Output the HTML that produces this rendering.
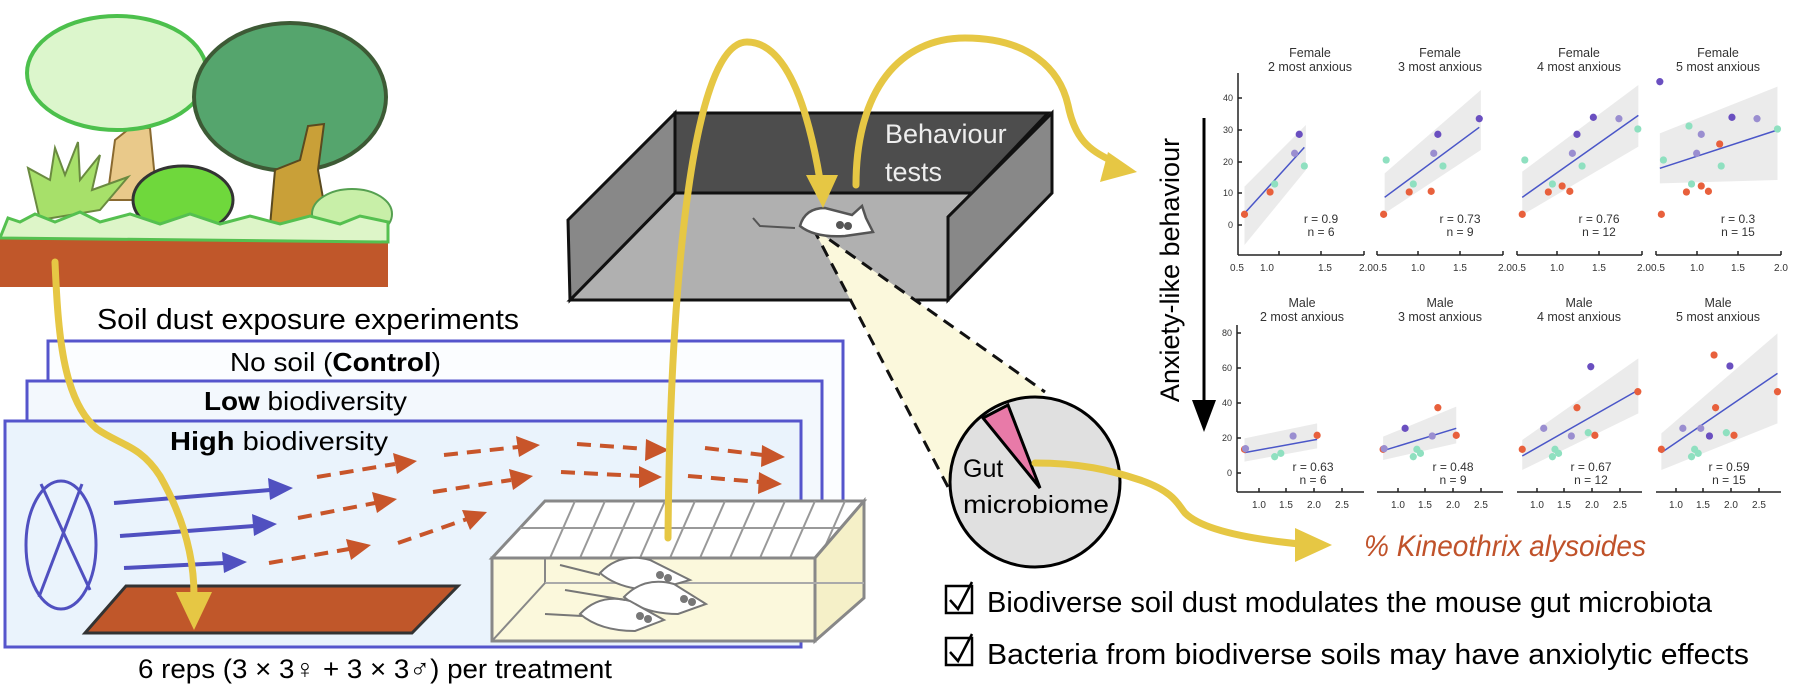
<!DOCTYPE html>
<html><head><meta charset="utf-8"><style>
html,body{margin:0;padding:0;background:#fff;}
svg{display:block;}
.t{font-family:"Liberation Sans",sans-serif;}
.p{font-family:"Liberation Sans Narrow","Liberation Sans",sans-serif;fill:#333;}
</style></head><body>
<svg width="1798" height="694" viewBox="0 0 1798 694" xmlns="http://www.w3.org/2000/svg">
<rect width="1798" height="694" fill="#fff"/>

<!-- ===== Landscape ===== -->
<rect x="0" y="236" width="388" height="51" fill="#c0572a"/>
<path d="M107,200 L115,140 L130,128 L150,128 L157,200 Z" fill="#e9c98a" stroke="#8a6a30" stroke-width="2"/>
<ellipse cx="117" cy="73" rx="90" ry="57" fill="#dcf6cc" stroke="#4cc04c" stroke-width="4"/>
<ellipse cx="290" cy="97" rx="96" ry="74" fill="#55a56d" stroke="#3d5a35" stroke-width="4"/>
<path d="M270,226 L275,170 L300,160 L308,126 L324,124 L318,170 L328,226 Z" fill="#c9a038" stroke="#5a4a20" stroke-width="2"/>
<path d="M40,220 L28,168 L50,180 L55,148 L65,175 L78,142 L80,180 L100,155 L92,190 L128,177 L100,210 Z" fill="#a7e06a" stroke="#6a8a40" stroke-width="2"/>
<ellipse cx="183" cy="200" rx="50" ry="34" fill="#6fd83c" stroke="#333" stroke-width="3"/>
<ellipse cx="352" cy="214" rx="40" ry="25" fill="#c8efa8" stroke="#55a050" stroke-width="2"/>
<path d="M0,238 L8,218 L20,222 L35,214 L55,222 L80,212 L100,222 L130,214 L160,224 L190,214 L220,224 L250,216 L280,224 L310,216 L340,224 L360,216 L388,222 L388,242 L0,238 Z" fill="#ddf5c8" stroke="#55c050" stroke-width="3"/>

<!-- ===== Treatment panels ===== -->
<rect x="48" y="341" width="795" height="224" fill="#fbfdff" stroke="#5555cc" stroke-width="3"/>
<rect x="27" y="381" width="795" height="222" fill="#f3f8fd" stroke="#5555cc" stroke-width="3"/>
<rect x="5" y="421" width="796" height="226" fill="#eaf3fc" stroke="#5555cc" stroke-width="3"/>
<text class="t" x="97" y="329" font-size="29" textLength="422" lengthAdjust="spacingAndGlyphs">Soil dust exposure experiments</text>
<text class="t" x="230" y="371" font-size="26" textLength="211" lengthAdjust="spacingAndGlyphs">No soil (<tspan font-weight="bold">Control</tspan>)</text>
<text class="t" x="204" y="410" font-size="26" textLength="203" lengthAdjust="spacingAndGlyphs"><tspan font-weight="bold">Low</tspan> biodiversity</text>
<text class="t" x="170" y="450" font-size="26" textLength="218" lengthAdjust="spacingAndGlyphs"><tspan font-weight="bold">High</tspan> biodiversity</text>
<text class="t" x="138" y="678" font-size="27" textLength="474" lengthAdjust="spacingAndGlyphs">6 reps (3 × 3♀ + 3 × 3♂) per treatment</text>

<!-- fan -->
<ellipse cx="61" cy="545" rx="35" ry="64" fill="none" stroke="#5050c0" stroke-width="3"/>
<line x1="41" y1="484" x2="90" y2="590" stroke="#5050c0" stroke-width="3"/>
<line x1="82" y1="484" x2="39" y2="597" stroke="#5050c0" stroke-width="3"/>

<g stroke="#5050c0" stroke-width="4" fill="#5050c0">
<line x1="114" y1="503" x2="270" y2="490"/><polygon points="293,488 268,478 270,500" stroke="none"/>
<line x1="120" y1="536" x2="254" y2="526"/><polygon points="277,524 252,514 254,536" stroke="none"/>
<line x1="124" y1="568" x2="224" y2="563"/><polygon points="247,562 222,552 224,573" stroke="none"/>
</g>
<g stroke="#c8552a" stroke-width="4" stroke-dasharray="14 9" fill="none">
<line x1="317" y1="477" x2="395" y2="464"/>
<line x1="444" y1="455" x2="518" y2="447"/>
<line x1="577" y1="444" x2="647" y2="449"/>
<line x1="705" y1="448" x2="763" y2="455"/>
<line x1="298" y1="518" x2="375" y2="503"/>
<line x1="433" y1="492" x2="511" y2="480"/>
<line x1="561" y1="472" x2="640" y2="476"/>
<line x1="688" y1="476" x2="760" y2="482"/>
<line x1="269" y1="563" x2="349" y2="549"/>
<line x1="398" y1="543" x2="467" y2="519"/>
</g>
<g fill="#c8552a">
<polygon points="417,461 393,453 397,474"/>
<polygon points="540,445 516,436 519,457"/>
<polygon points="669,450 646,439 645,461"/>
<polygon points="785,457 762,445 761,467"/>
<polygon points="397,499 372,492 377,513"/>
<polygon points="533,476 509,469 513,490"/>
<polygon points="662,477 639,466 639,488"/>
<polygon points="782,484 759,472 758,494"/>
<polygon points="371,545 346,539 351,560"/>
<polygon points="487,512 462,510 470,530"/>
</g>

<polygon points="85,633 126,586 458,586 412,633" fill="#c0572a" stroke="#333" stroke-width="3"/>

<!-- cage -->
<polygon points="492,558 545,501 864,501 815,558" fill="#fff" stroke="#888" stroke-width="3"/>
<g stroke="#999" stroke-width="2">
<line x1="520" y1="528" x2="840" y2="528"/>
<line x1="575" y1="501" x2="550" y2="558"/><line x1="605" y1="501" x2="580" y2="558"/>
<line x1="635" y1="501" x2="610" y2="558"/><line x1="665" y1="501" x2="640" y2="558"/>
<line x1="695" y1="501" x2="670" y2="558"/><line x1="725" y1="501" x2="700" y2="558"/>
<line x1="755" y1="501" x2="730" y2="558"/><line x1="785" y1="501" x2="760" y2="558"/>
<line x1="815" y1="501" x2="790" y2="558"/><line x1="845" y1="501" x2="820" y2="558"/>
</g>
<polygon points="492,558 815,558 815,641 492,641" fill="#fbf8dc" stroke="#888" stroke-width="3"/>
<polygon points="815,558 864,501 864,598 815,641" fill="#f5f0c8" stroke="#888" stroke-width="3"/>
<line x1="545" y1="558" x2="545" y2="583" stroke="#888" stroke-width="2"/>
<line x1="545" y1="583" x2="864" y2="583" stroke="#aaa" stroke-width="2"/>
<line x1="492" y1="641" x2="545" y2="583" stroke="#888" stroke-width="2"/>
<g fill="#fff" stroke="#777" stroke-width="2">
<path d="M600,573 Q620,552 650,560 L690,580 L655,590 Q620,590 600,573 Z"/>
<path d="M624,597 Q644,576 674,584 L706,604 L678,614 Q644,614 624,597 Z"/>
<path d="M580,614 Q600,593 630,601 L664,620 L635,631 Q600,631 580,614 Z"/>
<path d="M560,565 L600,575 M565,590 L625,600 M545,614 L582,616" fill="none"/>
</g>
<g fill="#777"><circle cx="660" cy="575" r="4"/><circle cx="668" cy="578" r="4"/><circle cx="684" cy="599" r="4"/><circle cx="692" cy="602" r="4"/><circle cx="640" cy="616" r="4"/><circle cx="648" cy="619" r="4"/></g>

<!-- ===== Behaviour box ===== -->
<polygon points="675,113 1048,113 972,193 675,193" fill="#4d4d4d" stroke="#111" stroke-width="3"/>
<polygon points="570,300 675,193 972,193 948,217 948,300" fill="#b0b0b0" stroke="#111" stroke-width="3"/>
<polygon points="568,220 675,113 675,193 570,300" fill="#888" stroke="#111" stroke-width="3"/>
<polygon points="948,217 1052,113 1052,193 948,300" fill="#888" stroke="#111" stroke-width="3"/>
<text class="t" x="885" y="143" font-size="27" fill="#eee">Behaviour</text>
<text class="t" x="885" y="181" font-size="27" fill="#eee">tests</text>

<polygon points="813,228 948,487 1045,392" fill="#fbf8dc"/>
<line x1="813" y1="228" x2="948" y2="487" stroke="#111" stroke-width="3" stroke-dasharray="12 8"/>
<line x1="813" y1="228" x2="1045" y2="392" stroke="#111" stroke-width="3" stroke-dasharray="12 8"/>
<path d="M753,218 L760,226 L795,228" fill="none" stroke="#555" stroke-width="2"/>
<path d="M800,226 Q805,208 825,208 L852,215 L862,206 L866,218 L873,232 L845,236 Q815,238 800,226 Z" fill="#fff" stroke="#555" stroke-width="2.5"/>
<circle cx="840" cy="225" r="4" fill="#555"/><circle cx="848" cy="226" r="4" fill="#555"/>

<!-- pie -->
<circle cx="1035" cy="482" r="85" fill="#e0e0e0" stroke="#000" stroke-width="3"/>
<polygon points="1040,488 983,418 1008,405" fill="#e87aa8" stroke="#000" stroke-width="3"/>
<text class="t" x="963" y="477" font-size="25">Gut</text>
<text class="t" x="963" y="513" font-size="25" textLength="146" lengthAdjust="spacingAndGlyphs">microbiome</text>

<!-- ===== Yellow arrows ===== -->
<g fill="none" stroke="#e6c744" stroke-width="7" stroke-linecap="round">
<path d="M55,262 C58,330 62,400 97,429 C120,445 140,445 160,476 C185,520 194,560 194,595"/>
<path d="M668,538 C670,300 690,42 747,42 C790,42 810,120 820,180"/>
<path d="M856,185 C856,90 900,38 965,38 C1030,38 1060,70 1068,105 C1075,140 1090,150 1110,160"/>
<path d="M1035,463 C1080,463 1110,470 1140,480 C1175,492 1178,505 1185,513 C1200,528 1240,538 1300,544"/>
</g>
<g fill="#e6c744">
<polygon points="194,630 176,592 212,592"/>
<polygon points="823,208 806,175 838,175"/>
<polygon points="1137,172 1108,152 1100,182"/>
<polygon points="1332,545 1295,528 1295,562"/>
</g>
<text class="t" x="1364" y="556" font-size="30" font-style="italic" fill="#c0522a" textLength="282" lengthAdjust="spacingAndGlyphs">% Kineothrix alysoides</text>

<!-- checkboxes -->
<g fill="none" stroke="#000" stroke-width="2.5">
<rect x="946" y="586" width="26" height="27"/>
<rect x="946" y="638" width="26" height="27"/>
<path d="M950,600 L958,609 L972,582"/>
<path d="M950,652 L958,661 L972,634"/>
</g>
<text class="t" x="987" y="612" font-size="29" textLength="725" lengthAdjust="spacingAndGlyphs">Biodiverse soil dust modulates the mouse gut microbiota</text>
<text class="t" x="987" y="664" font-size="29" textLength="762" lengthAdjust="spacingAndGlyphs">Bacteria from biodiverse soils may have anxiolytic effects</text>

<!-- ===== Plots ===== -->
<text class="t" transform="translate(1179,270) rotate(-90)" x="0" y="0" font-size="27" text-anchor="middle">Anxiety-like behaviour</text>
<line x1="1204" y1="118" x2="1204" y2="405" stroke="#000" stroke-width="3"/>
<polygon points="1204,432 1192,400 1216,400" fill="#000"/>

<g transform="translate(1000 40) scale(0.5115 0.33333)">
<g fill="#ebebeb">
<polygon points="478,440 598,255 598,390 478,615"/>
<polygon points="752,400 940,150 940,330 752,520"/>
<polygon points="1021,395 1248,135 1248,320 1021,525"/>
<polygon points="1290,280 1520,140 1520,420 1290,430"/>
<polygon points="478,1195 620,1150 620,1225 478,1265"/>
<polygon points="749,1190 892,1100 892,1210 749,1260"/>
<polygon points="1021,1200 1248,955 1248,1120 1021,1290"/>
<polygon points="1293,1180 1520,880 1520,1150 1293,1290"/>
</g>
<g stroke="#4a56c8" stroke-width="1.5">
<line x1="478" y1="520" x2="595" y2="322" vector-effect="non-scaling-stroke"/>
<line x1="752" y1="472" x2="937" y2="262" vector-effect="non-scaling-stroke"/>
<line x1="1021" y1="472" x2="1248" y2="226" vector-effect="non-scaling-stroke"/>
<line x1="1290" y1="385" x2="1520" y2="270" vector-effect="non-scaling-stroke"/>
<line x1="478" y1="1238" x2="620" y2="1198" vector-effect="non-scaling-stroke"/>
<line x1="749" y1="1232" x2="892" y2="1165" vector-effect="non-scaling-stroke"/>
<line x1="1021" y1="1248" x2="1248" y2="1050" vector-effect="non-scaling-stroke"/>
<line x1="1293" y1="1238" x2="1520" y2="1000" vector-effect="non-scaling-stroke"/>
</g>
<g fill="#e8603c">
<ellipse cx="478" cy="523" rx="7" ry="11"/><ellipse cx="528" cy="456" rx="7" ry="11"/>
<ellipse cx="750" cy="523" rx="7" ry="11"/><ellipse cx="800" cy="456" rx="7" ry="11"/><ellipse cx="843" cy="454" rx="7" ry="11"/>
<ellipse cx="1021" cy="523" rx="7" ry="11"/><ellipse cx="1072" cy="456" rx="7" ry="11"/><ellipse cx="1099" cy="438" rx="7" ry="11"/><ellipse cx="1114" cy="454" rx="7" ry="11"/>
<ellipse cx="1293" cy="523" rx="7" ry="11"/><ellipse cx="1342" cy="456" rx="7" ry="11"/><ellipse cx="1371" cy="438" rx="7" ry="11"/><ellipse cx="1385" cy="454" rx="7" ry="11"/><ellipse cx="1407" cy="312" rx="7" ry="11"/>
<ellipse cx="478" cy="1228" rx="7" ry="11"/><ellipse cx="620" cy="1186" rx="7" ry="11"/>
<ellipse cx="749" cy="1228" rx="7" ry="11"/><ellipse cx="856" cy="1103" rx="7" ry="11"/><ellipse cx="892" cy="1186" rx="7" ry="11"/>
<ellipse cx="1021" cy="1228" rx="7" ry="11"/><ellipse cx="1128" cy="1103" rx="7" ry="11"/><ellipse cx="1163" cy="1186" rx="7" ry="11"/><ellipse cx="1247" cy="1055" rx="7" ry="11"/>
<ellipse cx="1293" cy="1228" rx="7" ry="11"/><ellipse cx="1396" cy="945" rx="7" ry="11"/><ellipse cx="1399" cy="1103" rx="7" ry="11"/><ellipse cx="1435" cy="1186" rx="7" ry="11"/><ellipse cx="1520" cy="1055" rx="7" ry="11"/>
</g>
<g fill="#8fe0c0">
<ellipse cx="537" cy="432" rx="7" ry="11"/><ellipse cx="595" cy="378" rx="7" ry="11"/>
<ellipse cx="755" cy="360" rx="7" ry="11"/><ellipse cx="808" cy="432" rx="7" ry="11"/><ellipse cx="866" cy="378" rx="7" ry="11"/>
<ellipse cx="1026" cy="360" rx="7" ry="11"/><ellipse cx="1080" cy="432" rx="7" ry="11"/><ellipse cx="1138" cy="378" rx="7" ry="11"/><ellipse cx="1247" cy="267" rx="7" ry="11"/>
<ellipse cx="1297" cy="360" rx="7" ry="11"/><ellipse cx="1347" cy="258" rx="7" ry="11"/><ellipse cx="1352" cy="432" rx="7" ry="11"/><ellipse cx="1410" cy="378" rx="7" ry="11"/><ellipse cx="1520" cy="267" rx="7" ry="11"/>
<ellipse cx="537" cy="1250" rx="7" ry="11"/><ellipse cx="549" cy="1240" rx="7" ry="11"/>
<ellipse cx="808" cy="1250" rx="7" ry="11"/><ellipse cx="815" cy="1228" rx="7" ry="11"/><ellipse cx="822" cy="1240" rx="7" ry="11"/>
<ellipse cx="1080" cy="1250" rx="7" ry="11"/><ellipse cx="1085" cy="1228" rx="7" ry="11"/><ellipse cx="1092" cy="1240" rx="7" ry="11"/><ellipse cx="1150" cy="1178" rx="7" ry="11"/>
<ellipse cx="1352" cy="1250" rx="7" ry="11"/><ellipse cx="1358" cy="1228" rx="7" ry="11"/><ellipse cx="1365" cy="1240" rx="7" ry="11"/><ellipse cx="1420" cy="1178" rx="7" ry="11"/>
</g>
<g fill="#9a8ed0">
<ellipse cx="576" cy="340" rx="7" ry="11"/><ellipse cx="848" cy="340" rx="7" ry="11"/><ellipse cx="1119" cy="340" rx="7" ry="11"/><ellipse cx="1210" cy="236" rx="7" ry="11"/>
<ellipse cx="1362" cy="340" rx="7" ry="11"/><ellipse cx="1371" cy="283" rx="7" ry="11"/><ellipse cx="1480" cy="236" rx="7" ry="11"/>
<ellipse cx="573" cy="1188" rx="7" ry="11"/><ellipse cx="845" cy="1188" rx="7" ry="11"/><ellipse cx="1063" cy="1165" rx="7" ry="11"/><ellipse cx="1117" cy="1188" rx="7" ry="11"/>
<ellipse cx="1335" cy="1165" rx="7" ry="11"/><ellipse cx="1370" cy="1165" rx="7" ry="11"/><ellipse cx="480" cy="1226" rx="7" ry="11"/><ellipse cx="751" cy="1226" rx="7" ry="11"/>
</g>
<g fill="#6a4fc0">
<ellipse cx="585" cy="283" rx="7" ry="11"/><ellipse cx="856" cy="283" rx="7" ry="11"/><ellipse cx="937" cy="236" rx="7" ry="11"/>
<ellipse cx="1128" cy="283" rx="7" ry="11"/><ellipse cx="1160" cy="232" rx="7" ry="11"/>
<ellipse cx="1290" cy="125" rx="7" ry="11"/><ellipse cx="1431" cy="232" rx="7" ry="11"/>
<ellipse cx="792" cy="1165" rx="7" ry="11"/><ellipse cx="1155" cy="980" rx="7" ry="11"/><ellipse cx="1427" cy="978" rx="7" ry="11"/><ellipse cx="1387" cy="1188" rx="7" ry="11"/>
</g>
</g>

<g stroke="#222" stroke-width="1.5" fill="none">
<line x1="1238" y1="73" x2="1238" y2="255"/>
<line x1="1238" y1="255" x2="1364" y2="255"/><line x1="1377" y1="255" x2="1503" y2="255"/>
<line x1="1517" y1="255" x2="1642" y2="255"/><line x1="1656" y1="255" x2="1781" y2="255"/>
<path d="M1238,98h4M1238,130h4M1238,162h4M1238,193h4M1238,225h4"/>
<path d="M1279,255v-4M1321,255v-4M1364,255v-4M1377,255v-4M1418,255v-4M1460,255v-4M1503,255v-4M1517,255v-4M1557,255v-4M1599,255v-4M1642,255v-4M1656,255v-4M1697,255v-4M1738,255v-4M1781,255v-4"/>
<line x1="1237" y1="325" x2="1237" y2="492"/>
<line x1="1237" y1="492" x2="1364" y2="492"/><line x1="1377" y1="492" x2="1503" y2="492"/>
<line x1="1517" y1="492" x2="1642" y2="492"/><line x1="1656" y1="492" x2="1781" y2="492"/>
<path d="M1237,333h4M1237,368h4M1237,403h4M1237,438h4M1237,473h4"/>
<path d="M1259,492v-4M1286,492v-4M1314,492v-4M1342,492v-4M1398,492v-4M1425,492v-4M1453,492v-4M1481,492v-4M1537,492v-4M1564,492v-4M1592,492v-4M1620,492v-4M1676,492v-4M1703,492v-4M1731,492v-4M1759,492v-4"/>
</g>
<g class="p" font-size="9" fill="#555" text-anchor="end">
<text x="1233" y="101">40</text><text x="1233" y="133">30</text><text x="1233" y="165">20</text><text x="1233" y="196">10</text><text x="1233" y="228">0</text>
<text x="1232" y="336">80</text><text x="1232" y="371">60</text><text x="1232" y="406">40</text><text x="1232" y="441">20</text><text x="1232" y="476">0</text>
</g>
<g class="p" font-size="10" fill="#555" text-anchor="middle">
<text x="1237" y="271">0.5</text><text x="1267" y="271">1.0</text><text x="1325" y="271">1.5</text><text x="1366" y="271">2.0</text>
<text x="1380" y="271">0.5</text><text x="1418" y="271">1.0</text><text x="1460" y="271">1.5</text><text x="1505" y="271">2.0</text>
<text x="1519" y="271">0.5</text><text x="1557" y="271">1.0</text><text x="1599" y="271">1.5</text><text x="1644" y="271">2.0</text>
<text x="1658" y="271">0.5</text><text x="1697" y="271">1.0</text><text x="1738" y="271">1.5</text><text x="1781" y="271">2.0</text>
<text x="1259" y="508">1.0</text><text x="1286" y="508">1.5</text><text x="1314" y="508">2.0</text><text x="1342" y="508">2.5</text>
<text x="1398" y="508">1.0</text><text x="1425" y="508">1.5</text><text x="1453" y="508">2.0</text><text x="1481" y="508">2.5</text>
<text x="1537" y="508">1.0</text><text x="1564" y="508">1.5</text><text x="1592" y="508">2.0</text><text x="1620" y="508">2.5</text>
<text x="1676" y="508">1.0</text><text x="1703" y="508">1.5</text><text x="1731" y="508">2.0</text><text x="1759" y="508">2.5</text>
</g>
<g class="p" font-size="12.5" text-anchor="middle">
<text x="1310" y="57">Female</text><text x="1310" y="71">2 most anxious</text>
<text x="1440" y="57">Female</text><text x="1440" y="71">3 most anxious</text>
<text x="1579" y="57">Female</text><text x="1579" y="71">4 most anxious</text>
<text x="1718" y="57">Female</text><text x="1718" y="71">5 most anxious</text>
<text x="1302" y="307">Male</text><text x="1302" y="321">2 most anxious</text>
<text x="1440" y="307">Male</text><text x="1440" y="321">3 most anxious</text>
<text x="1579" y="307">Male</text><text x="1579" y="321">4 most anxious</text>
<text x="1718" y="307">Male</text><text x="1718" y="321">5 most anxious</text>
</g>
<g class="p" font-size="12" text-anchor="middle">
<text x="1321" y="223">r = 0.9</text><text x="1321" y="236">n = 6</text>
<text x="1460" y="223">r = 0.73</text><text x="1460" y="236">n = 9</text>
<text x="1599" y="223">r = 0.76</text><text x="1599" y="236">n = 12</text>
<text x="1738" y="223">r = 0.3</text><text x="1738" y="236">n = 15</text>
<text x="1313" y="471">r = 0.63</text><text x="1313" y="484">n = 6</text>
<text x="1453" y="471">r = 0.48</text><text x="1453" y="484">n = 9</text>
<text x="1591" y="471">r = 0.67</text><text x="1591" y="484">n = 12</text>
<text x="1729" y="471">r = 0.59</text><text x="1729" y="484">n = 15</text>
</g>
</svg>
</body></html>
